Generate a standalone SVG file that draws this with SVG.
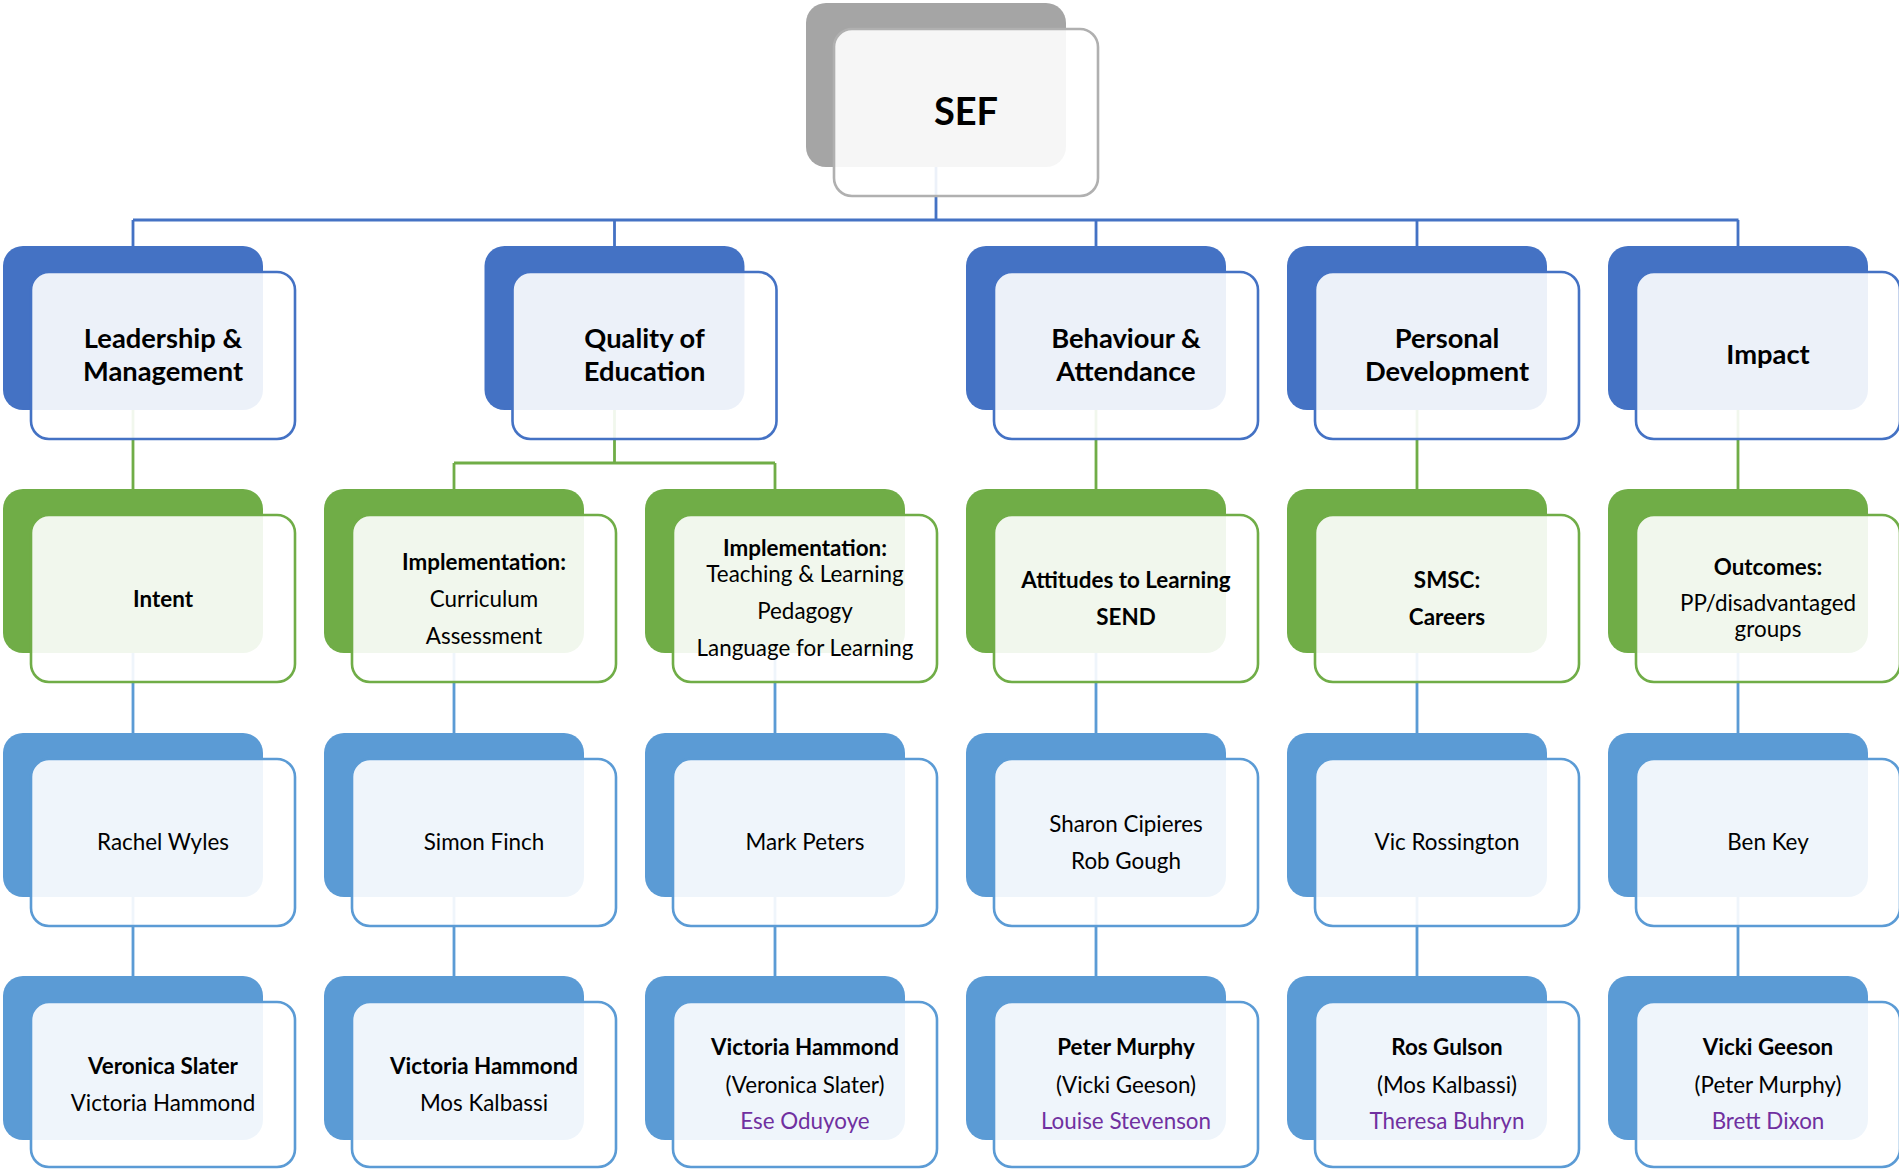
<svg xmlns="http://www.w3.org/2000/svg" width="1899" height="1169" viewBox="0 0 1899 1169">
<style>
.bk{stroke:none}
.fr{fill:#ffffff;fill-opacity:0.9;stroke-width:2.6}
.g0 .bk{fill:#a5a5a5}.g0 .fr{stroke:#b0b0b0}
.g1 .bk{fill:#4472c4}.g1 .fr{stroke:#4472c4}
.g2 .bk{fill:#70ad47}.g2 .fr{stroke:#70ad47}
.g3 .bk{fill:#5b9bd5}.g3 .fr{stroke:#5b9bd5}
text{font-family:Lato,"Open Sans","Liberation Sans",sans-serif;text-anchor:middle;fill:#000;font-size:22.4px}
.b{font-weight:bold}
.m{font-size:27.3px}
.x{font-size:38px}
.p{fill:#7030a0}
.cn{fill:none;stroke-width:2.8}
.cb{stroke:#4472c4}.cg{stroke:#70ad47}.cl{stroke:#5b9bd5}
</style>
<g id="connectors">
<path class="cn cb" d="M936 150V220M133 220H1738.5M133 220V246M614.5 220V246M1096 220V246M1417 220V246M1738 220V246"/>
<path class="cn cg" d="M133 410V489M614.5 410V463M454 463H775M454 463V489M775 463V489M1096 410V489M1417 410V489M1738 410V489"/>
<path class="cn cl" d="M133 653V733M454 653V733M775 653V733M1096 653V733M1417 653V733M1738 653V733M133 897V976M454 897V976M775 897V976M1096 897V976M1417 897V976M1738 897V976"/>
</g>
<g id="sef" class="g0"><rect class="bk" x="806" y="3" width="260" height="164" rx="20"/><rect class="fr" x="834" y="29" width="264" height="167" rx="18"/><text class="x b" x="966" y="125">SEF</text></g>
<g id="leadership" class="g1"><rect class="bk" x="3" y="246" width="260" height="164" rx="20"/><rect class="fr" x="31" y="272" width="264" height="167" rx="18"/><text class="m b" x="163" y="348">Leadership &amp;</text><text class="m b" x="163" y="381">Management</text></g>
<g id="quality" class="g1"><rect class="bk" x="484.5" y="246" width="260" height="164" rx="20"/><rect class="fr" x="512.5" y="272" width="264" height="167" rx="18"/><text class="m b" x="644.5" y="348">Quality of</text><text class="m b" x="644.5" y="381">Education</text></g>
<g id="behaviour" class="g1"><rect class="bk" x="966" y="246" width="260" height="164" rx="20"/><rect class="fr" x="994" y="272" width="264" height="167" rx="18"/><text class="m b" x="1126" y="348">Behaviour &amp;</text><text class="m b" x="1126" y="381">Attendance</text></g>
<g id="personal" class="g1"><rect class="bk" x="1287" y="246" width="260" height="164" rx="20"/><rect class="fr" x="1315" y="272" width="264" height="167" rx="18"/><text class="m b" x="1447" y="348">Personal</text><text class="m b" x="1447" y="381">Development</text></g>
<g id="impact" class="g1"><rect class="bk" x="1608" y="246" width="260" height="164" rx="20"/><rect class="fr" x="1636" y="272" width="264" height="167" rx="18"/><text class="m b" x="1768" y="364">Impact</text></g>
<g id="intent" class="g2"><rect class="bk" x="3" y="489" width="260" height="164" rx="20"/><rect class="fr" x="31" y="515" width="264" height="167" rx="18"/><text class="b" x="163" y="606.5">Intent</text></g>
<g id="impl-curriculum" class="g2"><rect class="bk" x="324" y="489" width="260" height="164" rx="20"/><rect class="fr" x="352" y="515" width="264" height="167" rx="18"/><text class="b" x="484" y="569.5">Implementation:</text><text x="484" y="606.5">Curriculum</text><text x="484" y="643.5">Assessment</text></g>
<g id="impl-teaching" class="g2"><rect class="bk" x="645" y="489" width="260" height="164" rx="20"/><rect class="fr" x="673" y="515" width="264" height="167" rx="18"/><text class="b" x="805" y="555.5">Implementation:</text><text x="805" y="581.5">Teaching &amp; Learning</text><text x="805" y="618.5">Pedagogy</text><text x="805" y="655.5">Language for Learning</text></g>
<g id="attitudes" class="g2"><rect class="bk" x="966" y="489" width="260" height="164" rx="20"/><rect class="fr" x="994" y="515" width="264" height="167" rx="18"/><text class="b" x="1126" y="588">Attitudes to Learning</text><text class="b" x="1126" y="625">SEND</text></g>
<g id="smsc" class="g2"><rect class="bk" x="1287" y="489" width="260" height="164" rx="20"/><rect class="fr" x="1315" y="515" width="264" height="167" rx="18"/><text class="b" x="1447" y="588">SMSC:</text><text class="b" x="1447" y="625">Careers</text></g>
<g id="outcomes" class="g2"><rect class="bk" x="1608" y="489" width="260" height="164" rx="20"/><rect class="fr" x="1636" y="515" width="264" height="167" rx="18"/><text class="b" x="1768" y="574.5">Outcomes:</text><text x="1768" y="610.5">PP/disadvantaged</text><text x="1768" y="636.5">groups</text></g>
<g id="lead-rachel" class="g3"><rect class="bk" x="3" y="733" width="260" height="164" rx="20"/><rect class="fr" x="31" y="759" width="264" height="167" rx="18"/><text x="163" y="849.5">Rachel Wyles</text></g>
<g id="lead-simon" class="g3"><rect class="bk" x="324" y="733" width="260" height="164" rx="20"/><rect class="fr" x="352" y="759" width="264" height="167" rx="18"/><text x="484" y="849.5">Simon Finch</text></g>
<g id="lead-mark" class="g3"><rect class="bk" x="645" y="733" width="260" height="164" rx="20"/><rect class="fr" x="673" y="759" width="264" height="167" rx="18"/><text x="805" y="849.5">Mark Peters</text></g>
<g id="lead-sharon" class="g3"><rect class="bk" x="966" y="733" width="260" height="164" rx="20"/><rect class="fr" x="994" y="759" width="264" height="167" rx="18"/><text x="1126" y="831.5">Sharon Cipieres</text><text x="1126" y="868.5">Rob Gough</text></g>
<g id="lead-vic" class="g3"><rect class="bk" x="1287" y="733" width="260" height="164" rx="20"/><rect class="fr" x="1315" y="759" width="264" height="167" rx="18"/><text x="1447" y="849.5">Vic Rossington</text></g>
<g id="lead-ben" class="g3"><rect class="bk" x="1608" y="733" width="260" height="164" rx="20"/><rect class="fr" x="1636" y="759" width="264" height="167" rx="18"/><text x="1768" y="849.5">Ben Key</text></g>
<g id="team-veronica" class="g3"><rect class="bk" x="3" y="976" width="260" height="164" rx="20"/><rect class="fr" x="31" y="1002" width="264" height="165" rx="18"/><text class="b" x="163" y="1073.5">Veronica Slater</text><text x="163" y="1110.5">Victoria Hammond</text></g>
<g id="team-victoria" class="g3"><rect class="bk" x="324" y="976" width="260" height="164" rx="20"/><rect class="fr" x="352" y="1002" width="264" height="165" rx="18"/><text class="b" x="484" y="1073.5">Victoria Hammond</text><text x="484" y="1110.5">Mos Kalbassi</text></g>
<g id="team-victoria2" class="g3"><rect class="bk" x="645" y="976" width="260" height="164" rx="20"/><rect class="fr" x="673" y="1002" width="264" height="165" rx="18"/><text class="b" x="805" y="1054.5">Victoria Hammond</text><text x="805" y="1092.5">(Veronica Slater)</text><text class="p" x="805" y="1128.5">Ese Oduyoye</text></g>
<g id="team-peter" class="g3"><rect class="bk" x="966" y="976" width="260" height="164" rx="20"/><rect class="fr" x="994" y="1002" width="264" height="165" rx="18"/><text class="b" x="1126" y="1054.5">Peter Murphy</text><text x="1126" y="1092.5">(Vicki Geeson)</text><text class="p" x="1126" y="1128.5">Louise Stevenson</text></g>
<g id="team-ros" class="g3"><rect class="bk" x="1287" y="976" width="260" height="164" rx="20"/><rect class="fr" x="1315" y="1002" width="264" height="165" rx="18"/><text class="b" x="1447" y="1054.5">Ros Gulson</text><text x="1447" y="1092.5">(Mos Kalbassi)</text><text class="p" x="1447" y="1128.5">Theresa Buhryn</text></g>
<g id="team-vicki" class="g3"><rect class="bk" x="1608" y="976" width="260" height="164" rx="20"/><rect class="fr" x="1636" y="1002" width="264" height="165" rx="18"/><text class="b" x="1768" y="1054.5">Vicki Geeson</text><text x="1768" y="1092.5">(Peter Murphy)</text><text class="p" x="1768" y="1128.5">Brett Dixon</text></g>
</svg>
